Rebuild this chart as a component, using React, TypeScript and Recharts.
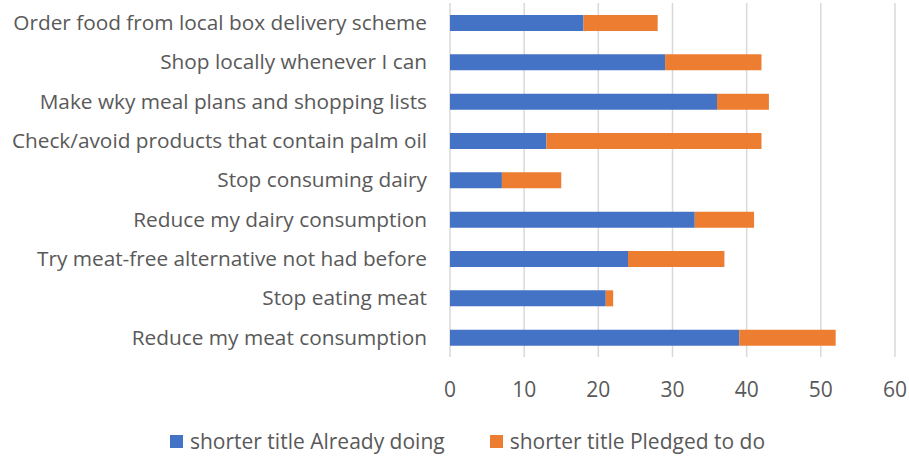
import React from 'react';
import { BarChart, Bar, XAxis, YAxis, CartesianGrid, Legend } from 'recharts';

const categories = [
  'Order food from local box delivery scheme',
  'Shop locally whenever I can',
  'Make wky meal plans and shopping lists',
  'Check/avoid products that contain palm oil',
  'Stop consuming dairy',
  'Reduce my dairy consumption',
  'Try meat-free alternative not had before',
  'Stop eating meat',
  'Reduce my meat consumption',
];
const alreadyDoing = [18, 29, 36, 13, 7, 33, 24, 21, 39];
const pledgedToDo = [10, 13, 7, 29, 8, 8, 13, 1, 13];
const xTicks = [0, 10, 20, 30, 40, 50, 60];

const seriesNames = ['shorter title Already doing', 'shorter title Pledged to do'];
const BLUE = '#4472C4';
const ORANGE = '#ED7D31';
const TEXT = '#595959';
const FONT = '"Open Sans", sans-serif';

const data = categories.map((name, i) => ({
  name,
  already: alreadyDoing[i],
  pledged: pledgedToDo[i],
}));

function LegendContent() {
  const items = [
    { label: seriesNames[0], color: BLUE },
    { label: seriesNames[1], color: ORANGE },
  ];
  return (
    <div
      style={{
        display: 'flex',
        justifyContent: 'center',
        gap: 45,
        paddingTop: 10,
        paddingLeft: 40,
        fontFamily: FONT,
        fontSize: 21,
        color: TEXT,
      }}
    >
      {items.map((it) => (
        <span key={it.label} style={{ display: 'flex', alignItems: 'center', gap: 7 }}>
          <span style={{ width: 13, height: 13, background: it.color, display: 'inline-block' }} />
          {it.label}
        </span>
      ))}
    </div>
  );
}

export default function App() {
  return (
    <div style={{ position: 'absolute', left: 0, top: 0, width: 909, height: 457, background: '#fff' }}>
      <BarChart
        layout="vertical"
        width={909}
        height={457}
        data={data}
        margin={{ top: 3, right: 14, left: 0, bottom: 0 }}
        barSize={16}
      >
        <CartesianGrid horizontal={false} stroke="#d9d9d9" strokeWidth={1.5} />
        <XAxis
          type="number"
          domain={[0, 60]}
          ticks={xTicks}
          axisLine={false}
          tickLine={false}
          tickSize={0}
          tickMargin={25}
          height={60}
          tick={{ fill: TEXT, fontSize: 21, fontFamily: FONT }}
        />
        <YAxis
          type="category"
          dataKey="name"
          width={450}
          axisLine={false}
          tickLine={false}
          tickSize={0}
          tickMargin={23}
          interval={0}
          tick={{ fill: TEXT, fontSize: 20.8, fontFamily: FONT }}
        />
        <Legend verticalAlign="bottom" height={40} content={<LegendContent />} />
        <Bar dataKey="already" stackId="a" fill={BLUE} isAnimationActive={false} />
        <Bar dataKey="pledged" stackId="a" fill={ORANGE} isAnimationActive={false} />
      </BarChart>
    </div>
  );
}
